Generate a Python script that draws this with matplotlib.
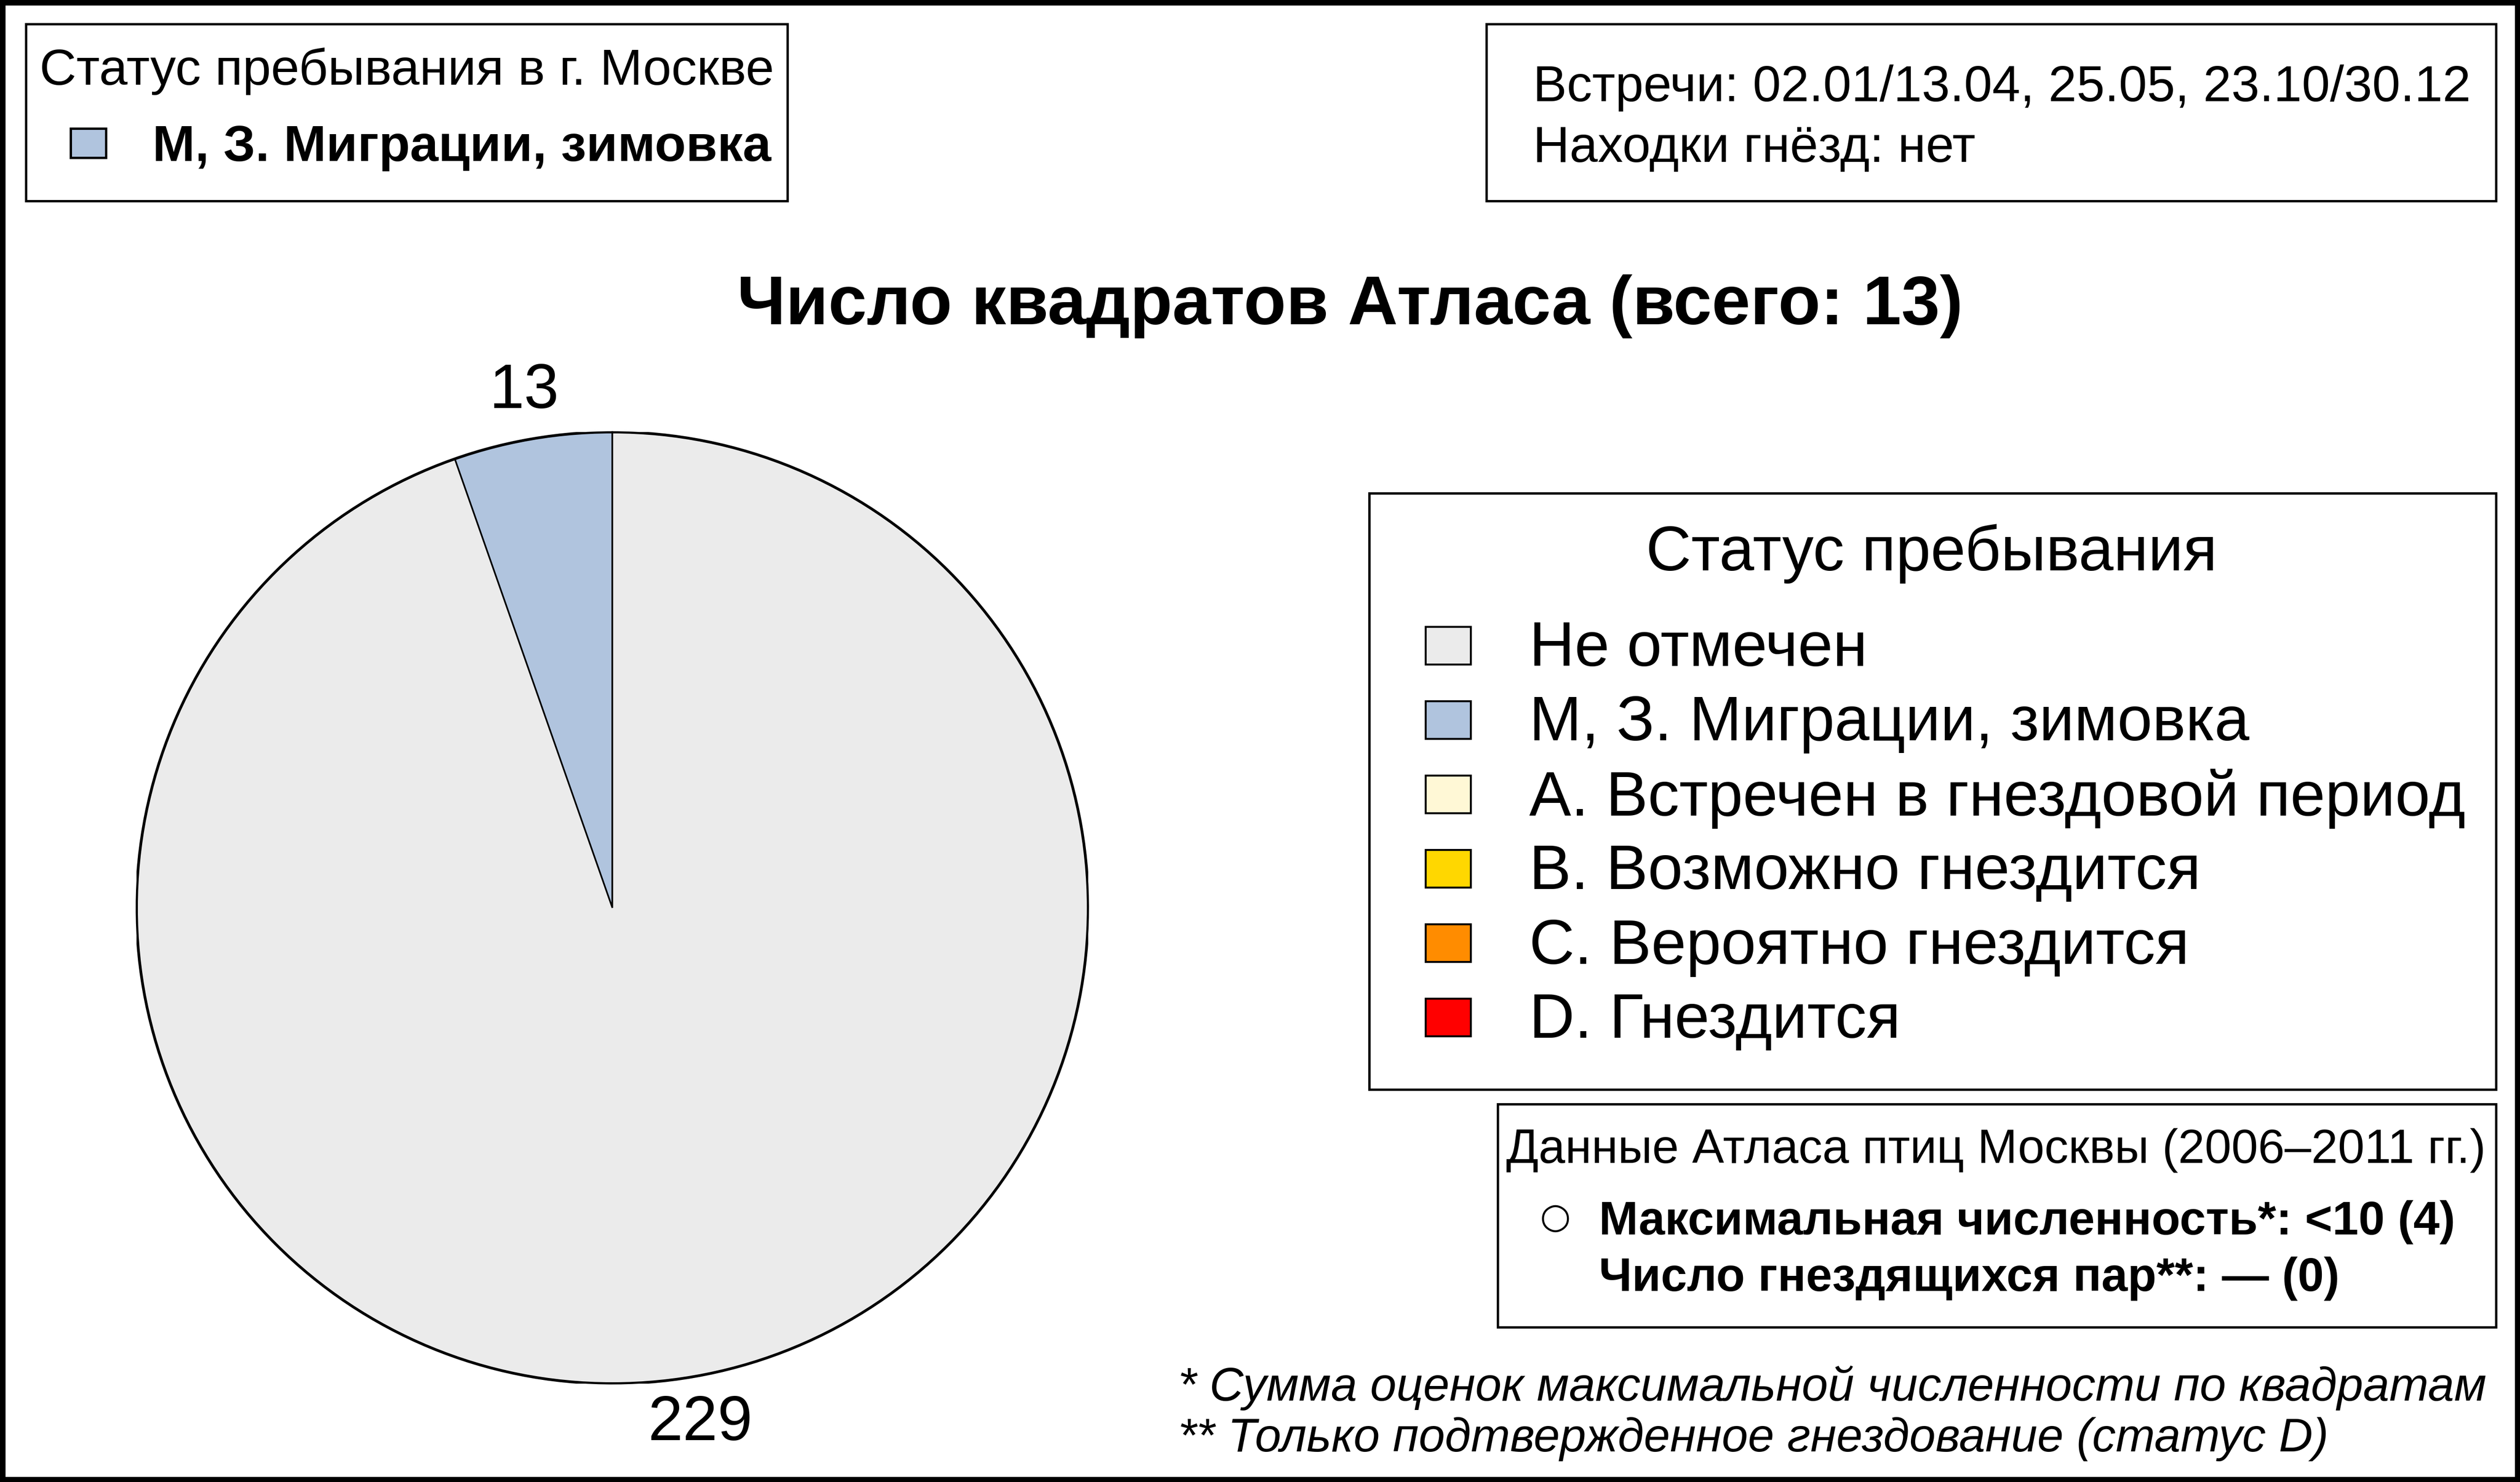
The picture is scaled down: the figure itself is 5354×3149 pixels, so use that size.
import matplotlib
matplotlib.use("Agg")
import matplotlib.pyplot as plt
from matplotlib.patches import Rectangle

plt.rcParams["font.family"] = ["Liberation Sans", "DejaVu Sans"]

# --- data ---
pie_values = [13, 229]
pie_colors = ["#B0C4DE", "#EBEBEB"]
pie_labels = ["13", "229"]

legend_title = "Статус пребывания"
legend_labels = [
    "Не отмечен",
    "М, З. Миграции, зимовка",
    "А. Встречен в гнездовой период",
    "В. Возможно гнездится",
    "С. Вероятно гнездится",
    "D. Гнездится",
]
legend_colors = ["#EBEBEB", "#B0C4DE", "#FFF8D6", "#FFD700", "#FF8C00", "#FF0000"]

status_title = "Статус пребывания в г. Москве"
status_label = "М, З. Миграции, зимовка"
status_color = "#B0C4DE"

info_lines = ["Встречи: 02.01/13.04, 25.05, 23.10/30.12", "Находки гнёзд: нет"]
chart_title = "Число квадратов Атласа (всего: 13)"

atlas_title = "Данные Атласа птиц Москвы (2006–2011 гг.)"
atlas_lines = ["Максимальная численность*: <10 (4)", "Число гнездящихся пар**: — (0)"]
footnotes = [
    "* Сумма оценок максимальной численности по квадратам",
    "** Только подтвержденное гнездование (статус D)",
]

W, H = 5354, 3149
DPI = 300
fig = plt.figure(figsize=(W / DPI, H / DPI), dpi=DPI)
fig.patch.set_facecolor("white")

DY = 9  # small downward nudge for text centres


def fx(x):
    return x / W


def fy(y):
    return 1 - y / H


def box(x0, y0, x1, y1, lw=1.2, fc="white", fill=True):
    fig.patches.append(
        Rectangle((fx(x0), fy(y1)), fx(x1) - fx(x0), fy(y0) - fy(y1),
                  transform=fig.transFigure, fill=fill, facecolor=fc,
                  edgecolor="black", linewidth=lw, zorder=1)
    )


def label(x, y, s, **kw):
    kw.setdefault("va", "center")
    return fig.text(fx(x), fy(y + DY), s, **kw)


# outer frame
box(5, 5, W - 5, H - 5, lw=3.0, fill=False)

# top-left box
box(55, 51, 1673, 427)
label(864, 143, status_title, fontsize=26, ha="center")
box(150, 273, 225, 335, fc=status_color)
label(324, 305, status_label, fontsize=26, fontweight="bold", ha="left")

# top-right box
box(3158, 51, 5303, 427)
label(3257, 178, info_lines[0], fontsize=25.8, ha="left")
label(3257, 307, info_lines[1], fontsize=25.8, ha="left")

# title
label(2868, 642, chart_title, fontsize=35.3, fontweight="bold", ha="center")

# pie
cx, cy, r = 1301, 1929, 1011
ax = fig.add_axes([fx(cx - r), fy(cy + r), 2 * r / W, 2 * r / H])
wedges, texts = ax.pie(
    pie_values, colors=pie_colors, labels=pie_labels, startangle=90,
    counterclock=True, labeldistance=1.1,
    wedgeprops=dict(edgecolor="black", linewidth=0.8),
    textprops=dict(fontsize=32),
)
for t in texts:
    t.set_ha("center")
    t.set_va("center")
ax.add_patch(plt.Circle((0, 0), 1, fill=False, edgecolor="black", linewidth=1.4))
ax.set_xlim(-1, 1)
ax.set_ylim(-1, 1)
ax.set_aspect("auto")
ax.axis("off")

# legend box
box(2909, 1048, 5303, 2315)
label(4104, 1168, legend_title, fontsize=32, ha="center")
for i, (lab, col) in enumerate(zip(legend_labels, legend_colors)):
    yc = 1372 + 158 * i
    box(3029, yc - 40, 3125, yc + 40, lw=1.0, fc=col)
    label(3249, yc, lab, fontsize=32, ha="left")

# atlas box
box(3182, 2346, 5303, 2820)
label(4241, 2435, atlas_title, fontsize=24.4, ha="center")
fig.text(fx(3305), fy(2588), "○", fontsize=18, ha="center", va="center",
         family=["DejaVu Sans"])
label(3397, 2588, atlas_lines[0], fontsize=24, fontweight="bold", ha="left")
label(3397, 2708, atlas_lines[1], fontsize=24, fontweight="bold", ha="left")

# footnotes
label(2503, 2940, footnotes[0], fontsize=24, style="italic", ha="left")
label(2503, 3049, footnotes[1], fontsize=24, style="italic", ha="left")

fig.savefig("out.png", dpi=DPI)
